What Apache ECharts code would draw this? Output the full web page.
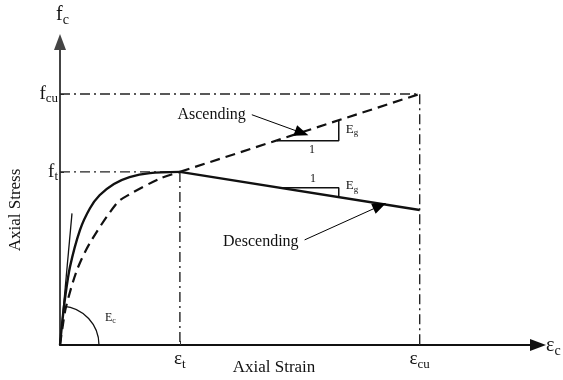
<!DOCTYPE html>
<html>
<head>
<meta charset="utf-8">
<script src="https://cdn.jsdelivr.net/npm/echarts@6/dist/echarts.min.js"></script>
<style>
  html, body { margin: 0; padding: 0; background: #fff; }
  #chart { width: 563px; height: 380px; }
</style>
</head>
<body>
<div id="chart"></div>
<script>
// units: strain in multiples of eps_t, stress in multiples of f_t
const EPS_T = 1, EPS_CU = 3
const F_T = 1, F_CU = 1.45
const X_MAX = 3.97, Y_MAX = 1.75

const xTicks = [EPS_T, EPS_CU]
const xTickLabels = ['{m|ε}{s|t}', '{m|ε}{s|cu}']
const yTicks = [F_T, F_CU]
const yTickLabels = ['{m|f}{s|t}', '{m|f}{s|cu}']

// solid curve up to peak, then descending branch
const solidRise = [[0, 0], [0.02, 0.14], [0.04, 0.26], [0.083, 0.45], [0.167, 0.665], [0.25, 0.79],
                   [0.33, 0.865], [0.45, 0.93], [0.58, 0.97], [0.75, 0.993], [1, 1]]
const solidDesc = [[1, 1], [3, 0.78]]
// dashed curve, then ascending branch
const dashRise = [[0, 0], [0.025, 0.12], [0.05, 0.22], [0.14, 0.43], [0.25, 0.59], [0.475, 0.82],
                  [0.58, 0.87], [0.83, 0.96], [1, 1]]
const dashAsc = [[1, 1], [3, 1.45]]
// initial modulus tangent
const tangent = [[0, 0], [0.1, 0.76]]
// slope triangles
const triAsc = [[1.81, 1.18], [2.325, 1.18], [2.325, 1.297]]
const triDesc = [[1.83, 0.908], [2.325, 0.908], [2.325, 0.855]]
// leader arrows
const arrowAsc = [[1.6, 1.33], [2.017, 1.225]]
const arrowDesc = [[2.04, 0.607], [2.667, 0.803]]

const SERIF = '"Liberation Serif", "DejaVu Serif", serif'
const INK = '#111'
const DASHDOT = [10, 4, 2, 4]

const rich = {
  m: { fontSize: 19, fontFamily: SERIF, color: INK },
  s: { fontSize: 13, fontFamily: SERIF, color: INK, padding: [10, 0, 0, 0] },
}

const chart = echarts.init(document.getElementById('chart'), null, { renderer: 'canvas' })

const refLine = (data) => ({
  type: 'line', data, symbol: 'none', silent: true,
  lineStyle: { color: '#222', width: 1.4, type: DASHDOT },
})

chart.setOption({
  animation: false,
  grid: { left: 60, right: 27, top: 42, bottom: 35 },
  xAxis: {
    type: 'value', min: 0, max: X_MAX,
    axisLine: { lineStyle: { color: '#111', width: 2 }, symbol: ['none', 'triangle'], symbolSize: [12, 16], symbolOffset: [0, 2] },
    axisTick: { show: true, inside: true, length: 4, customValues: xTicks, lineStyle: { color: '#333' } },
    axisLabel: {
      customValues: xTicks, margin: 3, rich,
      formatter: (v) => xTickLabels[xTicks.indexOf(v)] || '',
    },
    splitLine: { show: false },
  },
  yAxis: {
    type: 'value', min: 0, max: Y_MAX,
    axisLine: { lineStyle: { color: '#444', width: 2 }, symbol: ['none', 'triangle'], symbolSize: [12, 16], symbolOffset: [0, 0] },
    axisTick: { show: true, inside: true, length: 4, customValues: yTicks, lineStyle: { color: '#333' } },
    axisLabel: {
      customValues: yTicks, margin: 2, rich,
      formatter: (v) => yTickLabels[yTicks.indexOf(v)] || '',
    },
    splitLine: { show: false },
  },
  series: [
    refLine([[0, F_CU], [EPS_CU, F_CU], [EPS_CU, 0]]),
    refLine([[0, F_T], [EPS_T, F_T], [EPS_T, 0]]),
    { type: 'line', data: tangent, symbol: 'none', lineStyle: { color: INK, width: 1.3 } },
    { type: 'line', data: solidRise, smooth: 0.3, symbol: 'none', lineStyle: { color: INK, width: 2.4 } },
    { type: 'line', data: solidDesc, symbol: 'none', lineStyle: { color: INK, width: 2.4 } },
    { type: 'line', data: dashRise, smooth: 0.3, symbol: 'none', lineStyle: { color: INK, width: 2.2, type: [10, 6] } },
    { type: 'line', data: dashAsc, symbol: 'none', lineStyle: { color: INK, width: 2.2, type: [10, 6] } },
    { type: 'line', data: triAsc, symbol: 'none', lineStyle: { color: INK, width: 1.5 } },
    { type: 'line', data: triDesc, symbol: 'none', lineStyle: { color: INK, width: 1.5 } },
    {
      type: 'line', data: [], symbol: 'none',
      itemStyle: { color: '#000' },
      markLine: {
        silent: true, animation: false,
        symbol: ['none', 'triangle'], symbolSize: [11, 14],
        label: { show: false },
        itemStyle: { color: '#000' },
        lineStyle: { color: '#000', width: 1, type: 'solid', opacity: 1 },
        data: [
          [{ coord: arrowAsc[0] }, { coord: arrowAsc[1] }],
          [{ coord: arrowDesc[0] }, { coord: arrowDesc[1] }],
        ],
      },
    },
  ],
})

// text annotations placed through the axes' scales
const px = (p) => chart.convertToPixel({ gridIndex: 0 }, p)
const o = px([0, 0])
const txt = (x, y, text, opts) => ({
  type: 'text', x, y,
  style: Object.assign({ text, fill: INK, font: '16px ' + SERIF, align: 'left', verticalAlign: 'middle' }, opts),
})
const richTxt = (x, y, text, size) => ({
  type: 'text', x, y,
  style: {
    text, align: 'left', verticalAlign: 'middle',
    rich: {
      m: { fontSize: size, fontFamily: SERIF, fill: INK },
      s: { fontSize: Math.round(size * 0.68), fontFamily: SERIF, fill: INK, padding: [Math.round(size * 0.5), 0, 0, 0] },
    },
  },
})
const pA = px(arrowAsc[0]), pD = px(arrowDesc[0])
const tA = px(triAsc[2]), tAb = px(triAsc[0]), tAc = px(triAsc[1])
const tD = px(triDesc[2]), tDb = px(triDesc[0]), tDc = px(triDesc[1])

chart.setOption({
  graphic: [
    { type: 'arc', shape: { cx: o[0], cy: o[1], r: 39, startAngle: -Math.PI * 0.475, endAngle: 0 },
      style: { stroke: INK, lineWidth: 1.3, fill: null } },
    richTxt(o[0] + 45, o[1] - 27, '{m|E}{s|c}', 12),
    txt(pA[0] - 6, pA[1], 'Ascending', { align: 'right' }),
    txt(pD[0] - 6, pD[1] + 2, 'Descending', { align: 'right' }),
    txt((tAb[0] + tAc[0]) / 2 + 4, tAb[1] + 9, '1', { font: '12px ' + SERIF, align: 'center' }),
    richTxt(tA[0] + 7, (tA[1] + tAc[1]) / 2 - 1, '{m|E}{s|g}', 13),
    txt((tDb[0] + tDc[0]) / 2 + 4, tDb[1] - 9, '1', { font: '12px ' + SERIF, align: 'center' }),
    richTxt(tD[0] + 7, tDc[1] - 2, '{m|E}{s|g}', 13),
    richTxt(o[0] - 4, 15, '{m|f}{s|c}', 20),
    richTxt(546, o[1] + 1, '{m|ε}{s|c}', 20),
    txt(274, 368, 'Axial Strain', { align: 'center', font: '17px ' + SERIF }),
    { type: 'text', x: 16, y: 210, rotation: Math.PI / 2,
      style: { text: 'Axial Stress', fill: INK, font: '17px ' + SERIF, align: 'center', verticalAlign: 'middle' } },
  ],
})
</script>
</body>
</html>
